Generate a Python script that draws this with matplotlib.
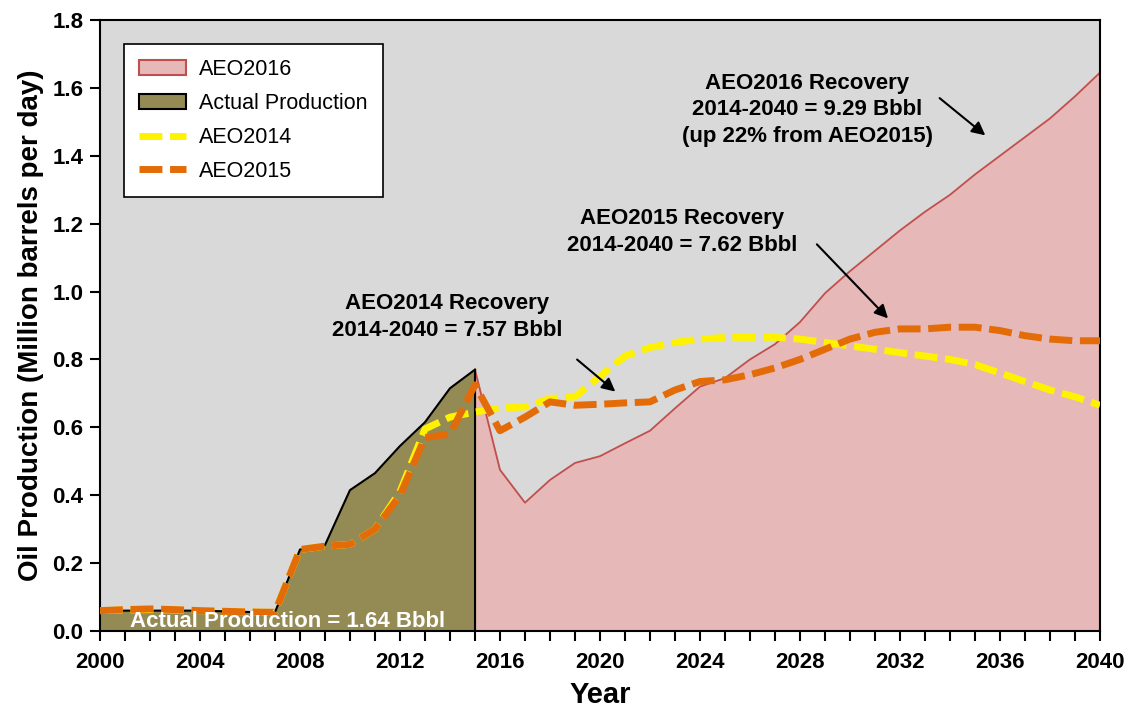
import numpy as np
import matplotlib
matplotlib.use('Agg')
import matplotlib.pyplot as plt
from matplotlib.patches import Patch
from matplotlib.lines import Line2D

plt.rcParams['font.family'] = ['Liberation Sans', 'DejaVu Sans']

# actual production 2000-2015
years_actual = list(range(2000, 2016))
actual = [0.06, 0.06, 0.06, 0.06, 0.06, 0.058, 0.056, 0.055, 0.24, 0.253, 0.415,
          0.465, 0.545, 0.615, 0.715, 0.77]

# AEO2016 projection 2015-2040
years_2016 = list(range(2015, 2041))
aeo2016 = [0.77, 0.475, 0.378, 0.445, 0.495, 0.515, 0.553, 0.59, 0.656, 0.72,
           0.745, 0.80, 0.845, 0.91, 0.995, 1.06, 1.12, 1.18, 1.235, 1.285,
           1.345, 1.40, 1.455, 1.51, 1.575, 1.645]

years_all = list(range(2000, 2041))
aeo2014 = [0.06, 0.062, 0.063, 0.062, 0.06, 0.058, 0.056, 0.055, 0.24, 0.25, 0.255,
           0.30, 0.41, 0.595, 0.63, 0.645, 0.657, 0.66, 0.685, 0.69, 0.75,
           0.81, 0.835, 0.85, 0.86, 0.865, 0.865, 0.865, 0.86, 0.85, 0.84,
           0.83, 0.82, 0.81, 0.80, 0.785, 0.76, 0.735, 0.71, 0.69, 0.665]
aeo2015 = [0.06, 0.063, 0.065, 0.063, 0.06, 0.058, 0.056, 0.055, 0.24, 0.25, 0.255,
           0.30, 0.40, 0.57, 0.58, 0.725, 0.59, 0.63, 0.675, 0.665, 0.668,
           0.672, 0.675, 0.71, 0.735, 0.74, 0.755, 0.775, 0.80, 0.83, 0.86,
           0.88, 0.89, 0.89, 0.895, 0.895, 0.885, 0.87, 0.86, 0.855, 0.855]

dash = (0, (3.3, 1.1))

fig = plt.figure(figsize=(11.32, 7.09), dpi=100)
ax = fig.add_axes([0.0883, 0.110, 0.8834, 0.8618])
ax.set_facecolor('#D9D9D9')

ax.fill_between(years_2016, aeo2016, 0, color='#E6B8B7', zorder=1)
ax.plot(years_2016, aeo2016, color='#C0504D', lw=1.3, zorder=2)
ax.plot([2040, 2040], [0, aeo2016[-1]], color='#C0504D', lw=1.5, zorder=2)

ax.fill_between(years_actual, actual, 0, color='#948A54', zorder=1)
ax.plot(years_actual, actual, color='black', lw=1.5, zorder=2)
ax.plot([2015, 2015], [0, actual[-1]], color='black', lw=1.5, zorder=2)

ax.plot(years_all, aeo2014, color='#FFF200', lw=5, ls=dash, zorder=3)
ax.plot(years_all, aeo2015, color='#E36C09', lw=5, ls=dash, zorder=4)

ax.set_xlim(2000, 2040)
ax.set_ylim(0, 1.8)
ax.set_xticks(range(2000, 2041, 4))
ax.set_xticks(range(2000, 2041, 1), minor=True)
ax.set_yticks(np.arange(0, 1.81, 0.2))
ax.set_yticklabels(['%.1f' % v for v in np.arange(0, 1.81, 0.2)])
ax.tick_params(axis='both', which='both', direction='out', width=1.5, labelsize=16)
ax.tick_params(axis='x', which='major', length=7, pad=8)
ax.tick_params(axis='x', which='minor', length=7)
ax.tick_params(axis='y', length=7, pad=5)
for lab in ax.get_xticklabels() + ax.get_yticklabels():
    lab.set_fontweight('bold')
for s in ax.spines.values():
    s.set_linewidth(1.5)

ax.set_xlabel('Year', fontsize=21, fontweight='bold', labelpad=6)
ax.set_ylabel('Oil Production (Million barrels per day)', fontsize=20, fontweight='bold', labelpad=6)

ax.text(2007.5, 0.027, 'Actual Production = 1.64 Bbbl', color='white', fontsize=16,
        fontweight='bold', ha='center', va='center', zorder=5)

ax.text(2013.9, 0.925, 'AEO2014 Recovery\n2014-2040 = 7.57 Bbbl', fontsize=16,
        fontweight='bold', ha='center', va='center', linespacing=1.35, zorder=5)
ax.annotate('', xy=(2020.7, 0.70), xytext=(2019.0, 0.805),
            arrowprops=dict(arrowstyle='-|>', color='black', lw=1.5, mutation_scale=20), zorder=5)

ax.text(2023.3, 1.175, 'AEO2015 Recovery\n2014-2040 = 7.62 Bbbl', fontsize=16,
        fontweight='bold', ha='center', va='center', linespacing=1.35, zorder=5)
ax.annotate('', xy=(2031.6, 0.915), xytext=(2028.6, 1.145),
            arrowprops=dict(arrowstyle='-|>', color='black', lw=1.5, mutation_scale=20), zorder=5)

ax.text(2028.3, 1.535, 'AEO2016 Recovery\n2014-2040 = 9.29 Bbbl\n(up 22% from AEO2015)', fontsize=16,
        fontweight='bold', ha='center', va='center', linespacing=1.35, zorder=5)
ax.annotate('', xy=(2035.5, 1.455), xytext=(2033.5, 1.575),
            arrowprops=dict(arrowstyle='-|>', color='black', lw=1.5, mutation_scale=20), zorder=5)

handles = [Patch(facecolor='#E6B8B7', edgecolor='#C0504D', lw=1.5),
           Patch(facecolor='#948A54', edgecolor='black', lw=1.5),
           Line2D([], [], color='#FFF200', lw=5, ls=dash),
           Line2D([], [], color='#E36C09', lw=5, ls=dash)]
leg = ax.legend(handles, ['AEO2016', 'Actual Production', 'AEO2014', 'AEO2015'],
                loc='upper left', bbox_to_anchor=(0.013, 0.978), fontsize=15.5,
                fancybox=False, framealpha=1, edgecolor='black', labelspacing=0.6,
                handlelength=2.2, handletextpad=0.6, borderpad=0.7)
leg.get_frame().set_linewidth(1.2)
leg.set_zorder(6)

fig.savefig('out.png', dpi=100)
